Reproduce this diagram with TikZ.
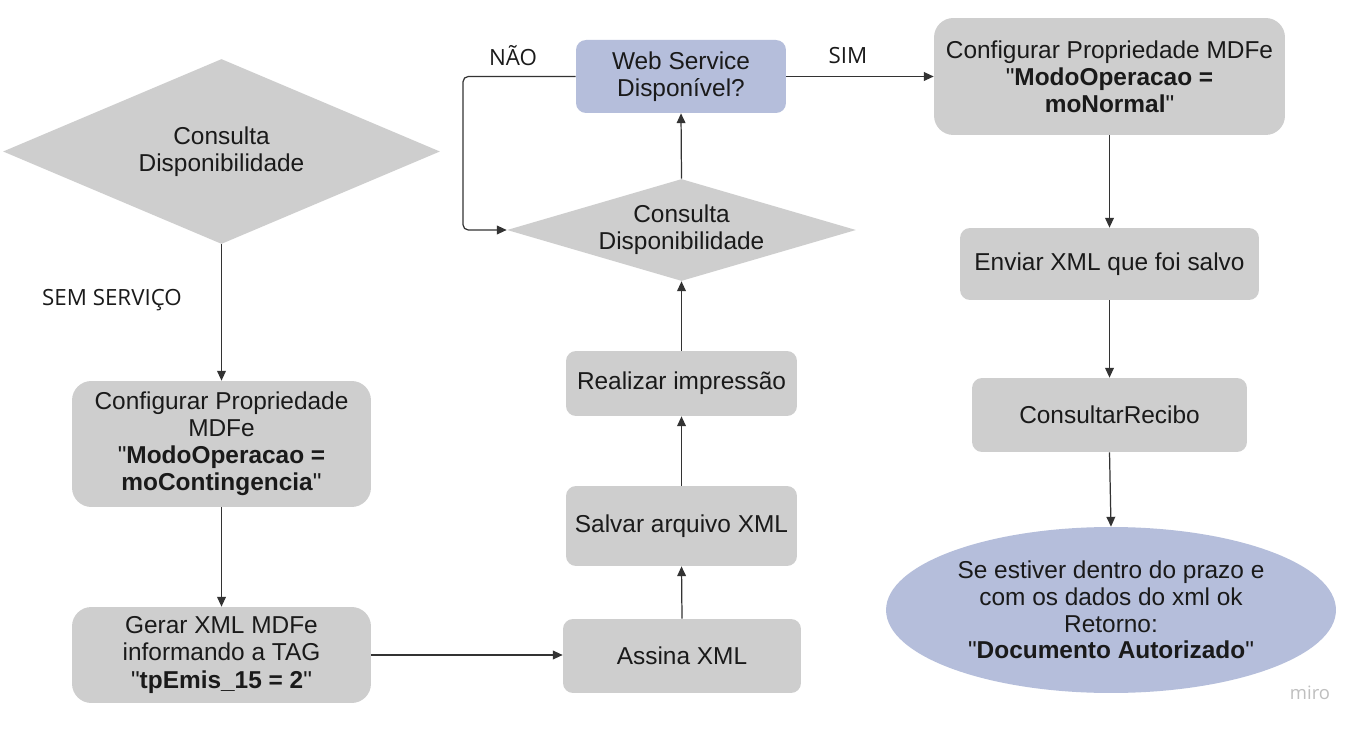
\documentclass[tikz,border=0pt]{standalone}
\usepackage{fontspec}
\setmainfont{Liberation Sans}[Ligatures=TeXOff]
\newfontfamily\openfont{Open Sans}
\usetikzlibrary{shapes.geometric,arrows.meta}

\definecolor{cinza}{RGB}{206,206,206}
\definecolor{azul}{RGB}{181,190,219}
\definecolor{traco}{RGB}{51,51,51}
\definecolor{texto}{RGB}{26,26,26}

\tikzset{
  caixa/.style={fill=cinza, rounded corners=5.7pt, align=center, text=texto,
    font=\fontsize{13.9}{15.4}\selectfont, inner sep=0pt},
  losango/.style={diamond, fill=cinza, align=center, text=texto,
    font=\fontsize{13.9}{15.4}\selectfont, inner sep=0pt},
  fluxo/.style={draw=traco, line width=0.7pt, -{Triangle[length=5.6pt,width=5pt]}},
  rotulo/.style={font=\openfont\fontsize{12.7}{14}\selectfont, text=texto}
}

\begin{document}
\begin{tikzpicture}[x=0.02cm,y=-0.02cm]
                \fill[white] (0,0) rectangle (1364,732);
                \useasboundingbox (0,0) rectangle (1364,732);
                % contingencia, coluna da esquerda
                \node[losango, minimum width=8.74cm, minimum height=3.7cm, aspect=2.36] (consulta) at (221.5,151.5) {Consulta\\Disponibilidade};
                \node[caixa, rounded corners=11pt, minimum width=5.98cm, minimum height=2.52cm] (cfgcont) at (221.5,444)
                    {Configurar Propriedade\\MDFe\\"\textbf{ModoOperacao =}\\\textbf{moContingencia}"};
                \node[caixa, rounded corners=11pt, minimum width=5.98cm, minimum height=1.92cm] (gerar) at (221.5,655)
                    {Gerar XML MDFe\\informando a TAG\\"\textbf{tpEmis\_15 = 2}"};
                % coluna do meio
                \node[caixa, minimum width=4.76cm, minimum height=1.48cm] (assina) at (682,656) {Assina XML};
                \node[caixa, minimum width=4.62cm, minimum height=1.6cm] (salvar) at (681.5,526) {Salvar arquivo XML};
                \node[caixa, minimum width=4.62cm, minimum height=1.3cm] (realizar) at (681.5,383.5) {Realizar impressão};
                \node[losango, minimum width=6.98cm, minimum height=2.04cm, aspect=3.4] (verifica) at (681.5,230) {Consulta\\Disponibilidade};
                \node[caixa, fill=azul, minimum width=4.2cm, minimum height=1.46cm] (ws) at (681,76.5) {Web Service\\Disponível?};
                % coluna da direita
                \node[caixa, rounded corners=11pt, minimum width=7.02cm, minimum height=2.34cm] (cfgnorm) at (1109.5,76.5)
                    {Configurar Propriedade MDFe\\"\textbf{ModoOperacao =}\\\textbf{moNormal}"};
                \node[caixa, minimum width=5.98cm, minimum height=1.44cm] (enviar) at (1109.5,264) {Enviar XML que foi salvo};
                \node[caixa, minimum width=5.5cm, minimum height=1.48cm] (recibo) at (1109.5,415) {ConsultarRecibo};
                \node[ellipse, fill=azul, align=center, text=texto, inner sep=0pt, font=\fontsize{13.9}{15.2}\selectfont,
                    minimum width=9cm, minimum height=3.32cm] (retorno) at (1111,610)
                    {Se estiver dentro do prazo e\\com os dados do xml ok\\Retorno:\\"\textbf{Documento Autorizado}"};
                \coordinate (volta) at (463,0);
                % ligacoes
                \draw[fluxo] (consulta.south) -- (cfgcont.north);
                \draw[fluxo] (cfgcont.south) -- (gerar.north);
                \draw[fluxo] (gerar.east) -- (gerar.east -| assina.west);
                \draw[fluxo] (assina.north) -- (salvar.south);
                \draw[fluxo] (salvar.north) -- (realizar.south);
                \draw[fluxo] (realizar.north) -- (verifica.south);
                \draw[fluxo] (verifica.north) -- (ws.south);
                \draw[fluxo, rounded corners=3pt] (ws.west) -- (ws.west -| volta) |- (verifica.west);
                \draw[fluxo] (ws.east) -- (ws.east -| cfgnorm.west);
                \draw[fluxo] (cfgnorm.south) -- (enviar.north);
                \draw[fluxo] (enviar.south) -- (recibo.north);
                \draw[fluxo] (recibo.south) -- (retorno.north);
                \node[rotulo] (sem) at (112,300) {SEM SERVIÇO};
                \node[rotulo] (nao) at (513,56) {NÃO};
                \node[rotulo] (sim) at (848,56) {SIM};
                \node[font=\openfont\fontsize{10.5}{12}\selectfont, text=black!25] (miro) at (1310,693) {miro};
            \end{tikzpicture}
\end{document}
